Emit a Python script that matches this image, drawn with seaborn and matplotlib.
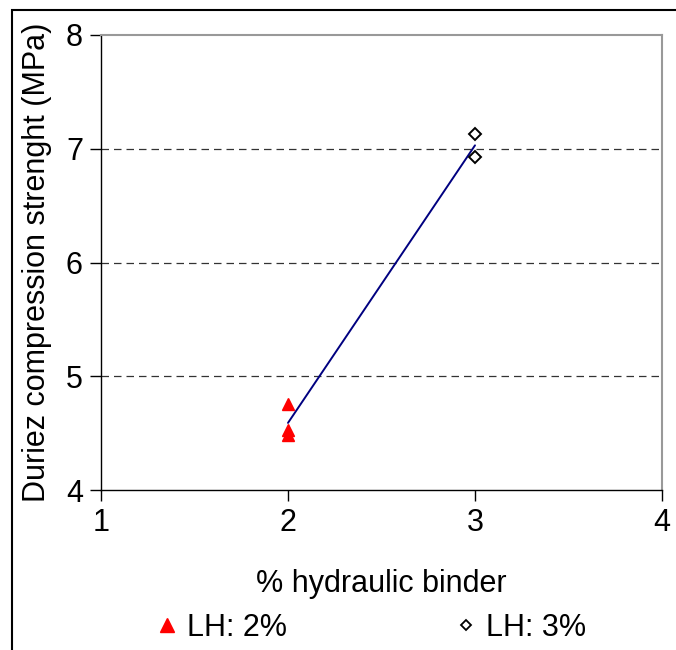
import numpy as np
import pandas as pd
import matplotlib
matplotlib.use("Agg")
import matplotlib.pyplot as plt
import seaborn as sns
from matplotlib.patches import Rectangle
from matplotlib.lines import Line2D

binder_2 = [2, 2, 2]
strength_2 = [4.76, 4.53, 4.48]
binder_3 = [3, 3]
strength_3 = [7.13, 6.93]
series = ["LH: 2%", "LH: 3%"]
x_ticks = [1, 2, 3, 4]
y_ticks = [4, 5, 6, 7, 8]

df = pd.DataFrame({
    "binder": binder_2 + binder_3,
    "strength": strength_2 + strength_3,
    "series": [series[0]] * len(binder_2) + [series[1]] * len(binder_3),
})

sns.set_style("white")
plt.rcParams["font.family"] = ["Liberation Sans", "DejaVu Sans"]
plt.rcParams["text.color"] = "black"
plt.rcParams["axes.labelcolor"] = "black"
plt.rcParams["xtick.color"] = "black"
plt.rcParams["ytick.color"] = "black"

FS = 22

fig = plt.figure(figsize=(6.76, 6.5), dpi=100)
ax = fig.add_axes([101 / 676, 1 - 490 / 650, (662 - 101) / 676, (490 - 35) / 650])

for yv in [5, 6, 7]:
    ax.axhline(yv, color="#333333", lw=0.9, ls=(0, (6, 4)), zorder=0)

sns.regplot(data=df, x="binder", y="strength", ax=ax, ci=None, scatter=False,
            truncate=True, line_kws=dict(color="#000080", lw=1.4, zorder=2))

ax.plot(binder_2, strength_2, ls="none", marker="^", ms=9, mfc="red", mec="red", zorder=3)
ax.plot(binder_3, strength_3, ls="none", marker="D", ms=6.5, mfc="white", mec="black",
        mew=1.4, zorder=3)

ax.set_xlim(1, 4)
ax.set_ylim(4, 8)
ax.set_xticks(x_ticks)
ax.set_yticks(y_ticks)
ax.tick_params(axis="both", labelsize=FS, direction="out", length=8, width=1,
               color="black", left=True, bottom=True, pad=5)
ax.set_xlabel("% hydraulic binder", fontsize=FS, labelpad=22)
ax.set_ylabel("Duriez compression strenght (MPa)", fontsize=FS, labelpad=10)

for s in ["left", "bottom"]:
    ax.spines[s].set_color("black")
    ax.spines[s].set_linewidth(1.0)
for s in ["right", "top"]:
    ax.spines[s].set_color("#999999")
    ax.spines[s].set_linewidth(1.5)

handles = [
    Line2D([], [], ls="none", marker="^", ms=10, mfc="red", mec="red"),
    Line2D([], [], ls="none", marker="D", ms=5.5, mfc="white", mec="black", mew=1.3),
]
fig.legend(handles, series, loc="center", bbox_to_anchor=(0.546, 1 - 628 / 650), ncol=2,
           frameon=False, fontsize=FS, columnspacing=5.35, handletextpad=0.15,
           handlelength=1.0)

fig.patches.append(Rectangle((12 / 676, -0.1), 1.2, 1.1 - 10 / 650,
                             transform=fig.transFigure, fill=False,
                             edgecolor="black", lw=1.5, zorder=10))

fig.savefig("out.png", dpi=100)
